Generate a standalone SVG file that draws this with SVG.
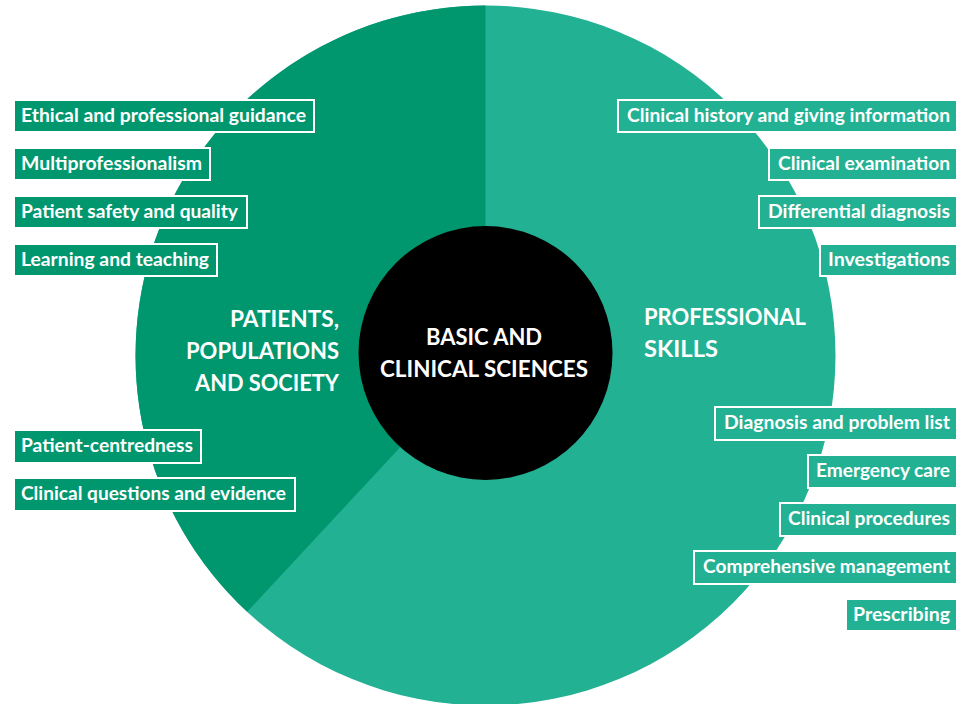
<svg xmlns="http://www.w3.org/2000/svg" width="968" height="704" viewBox="0 0 968 704">
<style>
.dk{fill:#00976F}
.lt{fill:#23B193}
.box{stroke:#FFFFFF;stroke-width:2}
.lbl{font-family:Lato,"Open Sans","Liberation Sans",sans-serif;font-weight:700;font-size:18px;fill:#FFFFFF}
.hd{font-family:Lato,"Open Sans","Liberation Sans",sans-serif;font-weight:700;font-size:22px;fill:#FFFFFF}
.r{text-anchor:end}
.c{text-anchor:middle}
</style>
<rect width="968" height="704" fill="#FFFFFF"/>
<g id="wheel">
<circle class="lt" cx="485.5" cy="355.5" r="350"/>
<path class="dk" d="M485.5,355.5 L485.5,5.5 A350,350 0 0 0 247.2,611.8 Z"/>
</g>
<g id="connectors"></g>
<g id="core">
<circle cx="485.5" cy="353" r="127" fill="#000000"/>
<text class="hd c" x="484" y="345" textLength="116" lengthAdjust="spacingAndGlyphs">BASIC AND</text>
<text class="hd c" x="484" y="377" textLength="208" lengthAdjust="spacingAndGlyphs">CLINICAL SCIENCES</text>
</g>
<g id="patients-heading">
<text class="hd r" x="339" y="327" textLength="109" lengthAdjust="spacingAndGlyphs">PATIENTS,</text>
<text class="hd r" x="339" y="359" textLength="153" lengthAdjust="spacingAndGlyphs">POPULATIONS</text>
<text class="hd r" x="339" y="391" textLength="144" lengthAdjust="spacingAndGlyphs">AND SOCIETY</text>
</g>
<g id="professional-heading">
<text class="hd" x="644" y="325" textLength="162" lengthAdjust="spacingAndGlyphs">PROFESSIONAL</text>
<text class="hd" x="644" y="357" textLength="74" lengthAdjust="spacingAndGlyphs">SKILLS</text>
</g>
<g id="l1"><rect class="box dk" x="14" y="100" width="300" height="32"/><text class="lbl" x="21" y="122" textLength="285" lengthAdjust="spacingAndGlyphs">Ethical and professional guidance</text></g>
<g id="l2"><rect class="box dk" x="14" y="148" width="196" height="32"/><text class="lbl" x="21" y="170" textLength="181" lengthAdjust="spacingAndGlyphs">Multiprofessionalism</text></g>
<g id="l3"><rect class="box dk" x="14" y="196" width="233" height="32"/><text class="lbl" x="21" y="218" textLength="217" lengthAdjust="spacingAndGlyphs">Patient safety and quality</text></g>
<g id="l4"><rect class="box dk" x="14" y="244" width="203" height="32"/><text class="lbl" x="21" y="266" textLength="188" lengthAdjust="spacingAndGlyphs">Learning and teaching</text></g>
<g id="l5"><rect class="box dk" x="14" y="430" width="187" height="33"/><text class="lbl" x="21" y="452" textLength="172" lengthAdjust="spacingAndGlyphs">Patient-centredness</text></g>
<g id="l6"><rect class="box dk" x="14" y="478" width="281" height="33"/><text class="lbl" x="21" y="500" textLength="265" lengthAdjust="spacingAndGlyphs">Clinical questions and evidence</text></g>
<g id="r1"><rect class="box lt" x="618" y="100" width="339" height="32"/><text class="lbl r" x="950" y="122" textLength="323" lengthAdjust="spacingAndGlyphs">Clinical history and giving information</text></g>
<g id="r2"><rect class="box lt" x="769" y="148" width="188" height="32"/><text class="lbl r" x="950" y="170" textLength="172" lengthAdjust="spacingAndGlyphs">Clinical examination</text></g>
<g id="r3"><rect class="box lt" x="759" y="196" width="198" height="32"/><text class="lbl r" x="950" y="218" textLength="182" lengthAdjust="spacingAndGlyphs">Differential diagnosis</text></g>
<g id="r4"><rect class="box lt" x="820" y="244" width="137" height="32"/><text class="lbl r" x="950" y="266" textLength="122" lengthAdjust="spacingAndGlyphs">Investigations</text></g>
<g id="r5"><rect class="box lt" x="715" y="407" width="242" height="33"/><text class="lbl r" x="950" y="429" textLength="226" lengthAdjust="spacingAndGlyphs">Diagnosis and problem list</text></g>
<g id="r6"><rect class="box lt" x="808" y="455" width="149" height="33"/><text class="lbl r" x="950" y="477" textLength="134" lengthAdjust="spacingAndGlyphs">Emergency care</text></g>
<g id="r7"><rect class="box lt" x="780" y="503" width="177" height="33"/><text class="lbl r" x="950" y="525" textLength="162" lengthAdjust="spacingAndGlyphs">Clinical procedures</text></g>
<g id="r8"><rect class="box lt" x="694" y="551" width="263" height="33"/><text class="lbl r" x="950" y="573" textLength="247" lengthAdjust="spacingAndGlyphs">Comprehensive management</text></g>
<g id="r9"><rect class="box lt" x="846" y="599" width="111" height="32"/><text class="lbl r" x="950" y="621" textLength="97" lengthAdjust="spacingAndGlyphs">Prescribing</text></g>
</svg>
